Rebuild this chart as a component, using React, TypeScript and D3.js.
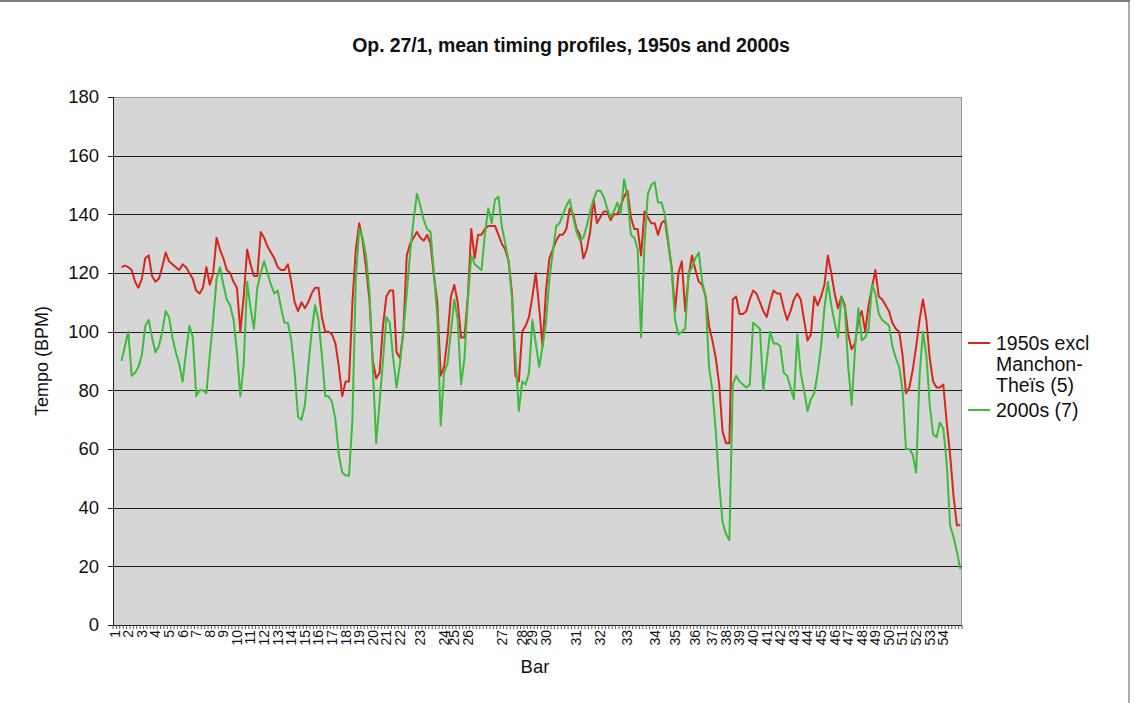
import React from "react";
import * as d3 from "d3";

const TITLE = "Op. 27/1, mean timing profiles, 1950s and 2000s";
const Y_TICKS = [0, 20, 40, 60, 80, 100, 120, 140, 160, 180];

// number of timing points (beats/events) in each bar 1..54
const BAR_EVENTS = [
  4, 4, 4, 4, 4, 4, 4, 4, 4, 4, 4, 4, 4, 4, 4, 4, 4, 4, 4,
  4, 4, 6, 7, 3, 4, 10, 6, 3, 4, 9, 7, 8, 8, 6, 6, 5,
  4, 4, 4, 4, 4, 4, 4, 4, 4, 4, 4, 4, 4, 4, 4, 4, 4, 6,
];

const SERIES_1950 = [
  null, null, 122, 122.5, 122, 121, 117, 115, 118, 125,
  126, 119, 117, 118, 122, 127, 124, 123, 122, 121,
  123, 122, 120, 118, 114, 113, 115, 122, 116, 120,
  132, 128, 125, 121, 120, 117, 115, 100, 112, 128,
  123, 119, 119, 134, 132, 129, 127, 125, 122, 121,
  121, 123, 117, 110, 107, 110, 108, 110, 113, 115,
  115, 105, 100, 100, 99, 96, 88, 78, 83, 83,
  110, 128, 137, 131, 122, 111, 90, 84, 86, 102,
  112, 114, 114, 93, 91, 100, 126, 130, 132, 134,
  132, 131, 133, 130, 119, 110, 85, 88, 98, 112,
  116, 110, 98, 98, 112, 135, 125, 133, 133, 135,
  136, 136, 136, 133, 130, 128, 124, 113, 85, 83,
  100, 102, 105, 112, 120, 108, 95, 114, 125, 128,
  131, 133, 133, 135, 142, 140, 135, 133, 125, 128,
  134, 145, 137, 139, 141, 141, 138, 140, 140, 143,
  146, 148, 139, 135, 135, 126, 141, 139, 137, 137,
  133, 137, 138, 130, 122, 107, 120, 124, 107, 119,
  126, 121, 117, 116, 112, 102, 97, 91, 82, 66,
  62, 62, 111, 112, 106, 106, 107, 111, 114, 113,
  110, 107, 105, 110, 114, 113, 113, 108, 104, 107,
  111, 113, 111, 104, 97, 99, 112, 109, 112, 116,
  126, 120, 113, 108, 112, 109, 99, 94, 96, 104,
  107, 100, 109, 115, 121, 112, 111, 109, 107, 103,
  101, 100, 92, 79, 81, 87, 95, 104, 111, 104,
  91, 83, 81, 81, 82, 69, 58, 44, 34, 34,
];

const SERIES_2000 = [
  null, null, 90, 95, 100, 85, 86, 88, 92, 102,
  104, 98, 93, 95, 100, 107, 105, 98, 93, 89,
  83, 93, 102, 98, 78, 80, 80, 79, 92, 104,
  118, 122, 116, 111, 109, 104, 93, 78, 89, 117,
  108, 101, 115, 120, 124, 120, 116, 113, 114, 108,
  103, 103, 97, 86, 71, 70, 75, 88, 100, 109,
  104, 92, 78, 78, 76, 70, 58, 52, 51, 51,
  70, 118, 135, 132, 126, 114, 88, 62, 76, 90,
  105, 103, 91, 81, 89, 100, 113, 127, 138, 147,
  143, 138, 135, 134, 120, 105, 68, 86, 89, 100,
  111, 104, 82, 91, 111, 126, 123, 122, 121, 133,
  142, 137, 145, 146, 136, 130, 124, 111, 92, 73,
  83, 82, 86, 104, 96, 88, 95, 103, 118, 127,
  136, 137, 140, 143, 145, 139, 134, 131, 132, 136,
  141, 145, 148, 148, 146, 142, 139, 141, 144, 140,
  152, 146, 133, 132, 128, 98, 130, 147, 150, 151,
  144, 144, 140, 131, 121, 104, 99, 100, 101, 120,
  122, 125, 127, 117, 112, 88, 80, 66, 48, 35,
  31, 29, 82, 85, 83, 82, 81, 82, 103, 102,
  101, 80, 90, 100, 96, 96, 95, 86, 85, 81,
  77, 99, 86, 80, 73, 77, 79, 86, 95, 108,
  117, 109, 103, 98, 112, 108, 88, 75, 94, 108,
  97, 98, 101, 116, 113, 106, 104, 103, 102, 95,
  91, 88, 80, 60, 60, 58, 52, 85, 100, 92,
  75, 65, 64, 69, 67, 55, 34, 30, 25, 19,
];

const SERIES = [
  { name: ["1950s excl", "Manchon-", "Theïs (5)"], values: SERIES_1950, color: "#d7271d" },
  { name: ["2000s (7)"], values: SERIES_2000, color: "#3dbb3a" },
];

// category labels: bar number at the first event of each bar
const CATEGORY_LABELS: string[] = BAR_EVENTS.flatMap((n, b) =>
  Array.from({ length: n }, (_, k) => (k === 0 ? String(b + 1) : ""))
);

const W = 1138;
const H = 703;
const M = { left: 113, right: 962, top: 97, bottom: 625 };
const FONT = "'Liberation Sans', Arial, Helvetica, sans-serif";

export default function App() {
  const idx = CATEGORY_LABELS.map((_, i) => i);
  const x = d3.scaleBand<number>().domain(idx).range([M.left, M.right]).padding(0);
  const bw = x.bandwidth();
  const cx = (i: number) => (x(i) as number) + bw / 2;
  const y = d3.scaleLinear().domain([0, 180]).range([M.bottom, M.top]);

  const line = d3
    .line<number | null>()
    .defined((d) => d != null)
    .x((_, i) => cx(i))
    .y((d) => y(d as number));

  const boundaries = d3.range(CATEGORY_LABELS.length + 1).map((i) => M.left + i * bw);

  return (
    <svg
      width={W}
      height={H}
      style={{ position: "absolute", left: 0, top: 0, background: "#fff" }}
      fontFamily={FONT}
    >
      {/* outer frame */}
      <line x1={0} x2={1130} y1={1} y2={1} stroke="#555" strokeWidth={1.5} />
      <line x1={1129} x2={1129} y1={0} y2={H} stroke="#777" strokeWidth={1.2} />

      <text x={571} y={52} textAnchor="middle" fontSize={19.5} fontWeight="bold" fill="#111" letterSpacing={-0.1}>
        {TITLE}
      </text>

      {/* plot area */}
      <rect x={M.left} y={M.top} width={M.right - M.left} height={M.bottom - M.top} fill="#d6d6d6" />
      <line x1={M.left} x2={M.right} y1={M.top + 0.5} y2={M.top + 0.5} stroke="#9a9a9a" />
      <line x1={M.right - 0.5} x2={M.right - 0.5} y1={M.top} y2={M.bottom} stroke="#9a9a9a" />

      {Y_TICKS.filter((t) => t > 0 && t < 180).map((t) => (
        <line key={t} x1={M.left} x2={M.right} y1={Math.round(y(t)) + 0.5} y2={Math.round(y(t)) + 0.5} stroke="#1e1e1e" strokeWidth={1} />
      ))}

      {/* y axis */}
      <line x1={M.left + 0.5} x2={M.left + 0.5} y1={M.top} y2={M.bottom} stroke="#222" />
      {Y_TICKS.map((t) => (
        <g key={t}>
          <line x1={M.left - 5} x2={M.left} y1={Math.round(y(t)) + 0.5} y2={Math.round(y(t)) + 0.5} stroke="#222" />
          <text x={99} y={y(t)} dy="0.35em" textAnchor="end" fontSize={18.5} fill="#111">
            {t}
          </text>
        </g>
      ))}
      <text
        transform={`translate(42, ${(M.top + M.bottom) / 2}) rotate(-90)`}
        textAnchor="middle"
        dy="0.35em"
        fontSize={18}
        fill="#111"
      >
        Tempo (BPM)
      </text>

      {/* x axis */}
      <line x1={M.left} x2={M.right} y1={M.bottom + 0.5} y2={M.bottom + 0.5} stroke="#222" />
      {boundaries.map((bx, i) => (
        <line key={i} x1={bx} x2={bx} y1={M.bottom} y2={M.bottom + 4} stroke="#333" strokeWidth={0.8} />
      ))}
      {CATEGORY_LABELS.map((lab, i) =>
        lab ? (
          <text
            key={i}
            transform={`translate(${cx(i)}, ${M.bottom + 5}) rotate(-90)`}
            textAnchor="end"
            dy="0.35em"
            fontSize={14}
            fill="#111"
          >
            {lab}
          </text>
        ) : null
      )}
      <text x={535} y={667} dy="0.35em" textAnchor="middle" fontSize={18.5} fill="#111">
        Bar
      </text>

      {/* series */}
      {SERIES.map((s) => (
        <path key={s.color} d={line(s.values) || ""} fill="none" stroke={s.color} strokeWidth={2} strokeLinejoin="round" />
      ))}

      {/* legend */}
      <g>
        <line x1={968} x2={990} y1={343} y2={343} stroke={SERIES[0].color} strokeWidth={2} />
        {SERIES[0].name.map((t, k) => (
          <text key={k} x={996} y={343 + k * 21} dy="0.35em" fontSize={19.5} fill="#111">
            {t}
          </text>
        ))}
        <line x1={968} x2={990} y1={410} y2={410} stroke={SERIES[1].color} strokeWidth={2} />
        <text x={996} y={410} dy="0.35em" fontSize={19.5} fill="#111">
          {SERIES[1].name[0]}
        </text>
      </g>
    </svg>
  );
}
